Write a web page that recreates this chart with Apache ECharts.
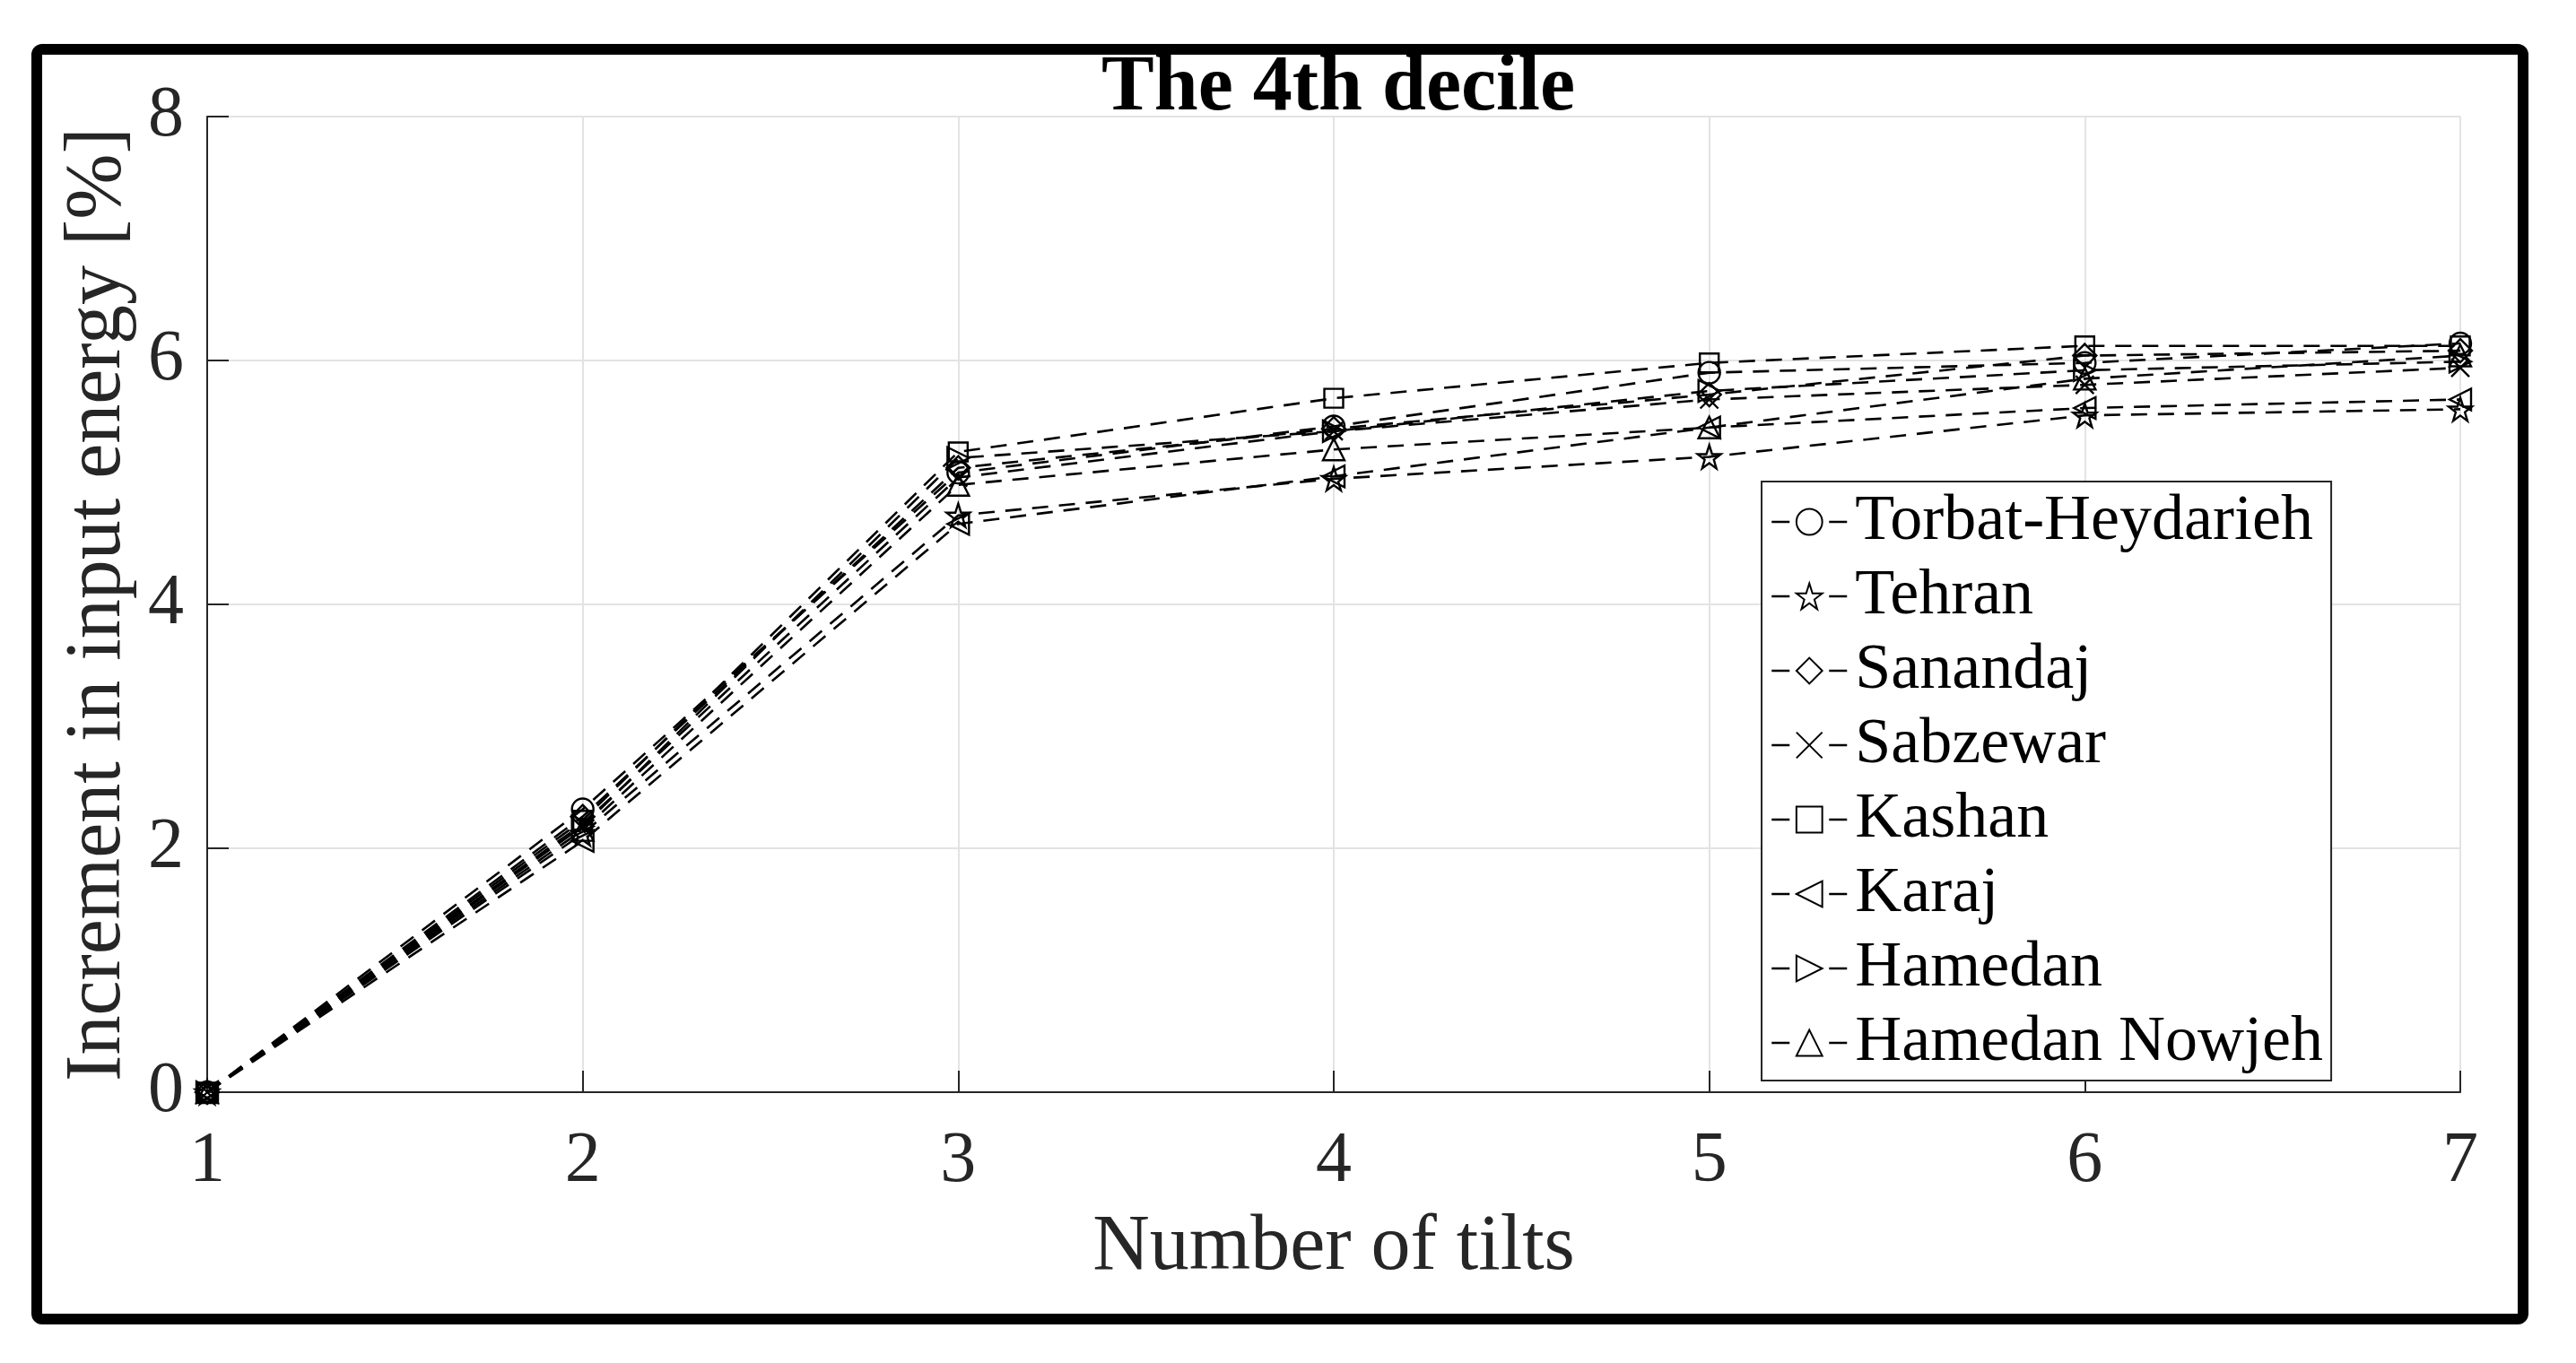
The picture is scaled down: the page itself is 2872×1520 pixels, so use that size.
<!DOCTYPE html>
<html><head><meta charset="utf-8">
<script src="https://cdn.jsdelivr.net/npm/echarts@6/dist/echarts.min.js"></script>
<style>html,body{margin:0;padding:0;background:#fff}#c{width:2872px;height:1520px}</style>
</head><body><div id="c"></div>
<script>
// ---- data ----
const tilts = [1, 2, 3, 4, 5, 6, 7];
const cities = ['Torbat-Heydarieh', 'Tehran', 'Sanandaj', 'Sabzewar', 'Kashan', 'Karaj', 'Hamedan', 'Hamedan Nowjeh'];
const torbatHeydarieh = [0, 2.32, 5.08, 5.46, 5.90, 5.98, 6.14];
const tehran          = [0, 2.12, 4.73, 5.03, 5.21, 5.55, 5.60];
const sanandaj        = [0, 2.26, 5.12, 5.44, 5.72, 6.04, 6.08];
const sabzewar        = [0, 2.20, 5.04, 5.42, 5.68, 5.80, 5.94];
const kashan          = [0, 2.23, 5.25, 5.69, 5.98, 6.12, 6.12];
const karaj           = [0, 2.06, 4.66, 5.05, 5.45, 5.61, 5.68];
const hamedan         = [0, 2.18, 5.20, 5.42, 5.75, 5.92, 5.99];
const hamedanNowjeh   = [0, 2.15, 4.98, 5.27, 5.45, 5.85, 6.04];
const yTicks = [0, 2, 4, 6, 8];

const seriesValues = [torbatHeydarieh, tehran, sanandaj, sabzewar, kashan, karaj, hamedan, hamedanNowjeh];
const markers = [
  'circle',
  'path://M50,0 L61.8,35.1 L98.1,35.1 L68.8,56.7 L79.4,91 L50,70 L20.6,91 L31.2,56.7 L1.9,35.1 L38.2,35.1 Z',
  'diamond',
  'path://M0,0 L10,10 M10,0 L0,10',
  'rect',
  'path://M0,5 L9,0 L9,10 Z',
  'path://M0,0 L9,5 L0,10 Z',
  'triangle'
];
const markerSizes = [24, 26, 26, 20, 21, 24, 24, 24];

const FONT = '"Liberation Serif", "Times New Roman", serif';
const AX = '#262626';

const series = cities.map((name, i) => ({
  name: name,
  type: 'line',
  data: tilts.map((t, j) => [t, seriesValues[i][j]]),
  symbol: markers[i],
  symbolSize: markerSizes[i],
  showAllSymbol: true,
  lineStyle: { color: '#000', width: 2.6, type: [18, 12] },
  itemStyle: { color: 'rgba(0,0,0,0)', borderColor: '#000', borderWidth: 2.4 },
  emphasis: { disabled: true },
  z: 3
}));

const chart = echarts.init(document.getElementById('c'), null, { renderer: 'canvas' });
chart.setOption({
  animation: false,
  backgroundColor: '#fff',
  title: {
    text: 'The 4th decile',
    left: 1487, top: 50, textAlign: 'center',
    textStyle: { fontFamily: FONT, fontSize: 88, fontWeight: 'bold', color: '#000' }
  },
  grid: { left: 231, right: 129, top: 130, bottom: 302 },
  xAxis: {
    type: 'value', min: 1, max: 7, interval: 1,
    name: 'Number of tilts', nameLocation: 'middle', nameGap: 130,
    nameTextStyle: { fontFamily: FONT, fontSize: 88, color: AX },
    axisLine: { show: true, onZero: false, lineStyle: { color: AX, width: 2 } },
    axisTick: { show: true, inside: true, length: 24, lineStyle: { color: AX, width: 2 } },
    axisLabel: { fontFamily: FONT, fontSize: 80, color: AX, margin: 38 },
    splitLine: { show: true, lineStyle: { color: '#e3e3e3', width: 2 } }
  },
  yAxis: {
    type: 'value', min: yTicks[0], max: yTicks[yTicks.length - 1], interval: yTicks[1] - yTicks[0],
    name: 'Increment in input energy [%]', nameLocation: 'middle', nameGap: 72,
    nameTextStyle: { fontFamily: FONT, fontSize: 88, color: AX },
    axisLine: { show: true, onZero: false, lineStyle: { color: AX, width: 2 } },
    axisTick: { show: true, inside: true, length: 24, lineStyle: { color: AX, width: 2 } },
    axisLabel: { fontFamily: FONT, fontSize: 80, color: AX, margin: 26 },
    splitLine: { show: true, lineStyle: { color: '#e3e3e3', width: 2 } }
  },
  legend: {
    orient: 'vertical', left: 1964, top: 537,
    padding: [9, 9, 6, 10], itemGap: 11, itemWidth: 84, itemHeight: 36,
    backgroundColor: '#fff', borderColor: AX, borderWidth: 2, borderRadius: 0,
    data: cities,
    lineStyle: { type: [20, 44], width: 2.5, color: '#000' },
    textStyle: { fontFamily: FONT, fontSize: 72, lineHeight: 72, color: '#000', padding: [0, 0, 0, 4] }
  },
  graphic: [{
    type: 'rect', z: 100,
    shape: { x: 41, y: 55, width: 2772, height: 1416, r: 6 },
    style: { fill: 'none', stroke: '#000', lineWidth: 12 }
  }],
  series: series
});
</script>
</body></html>
